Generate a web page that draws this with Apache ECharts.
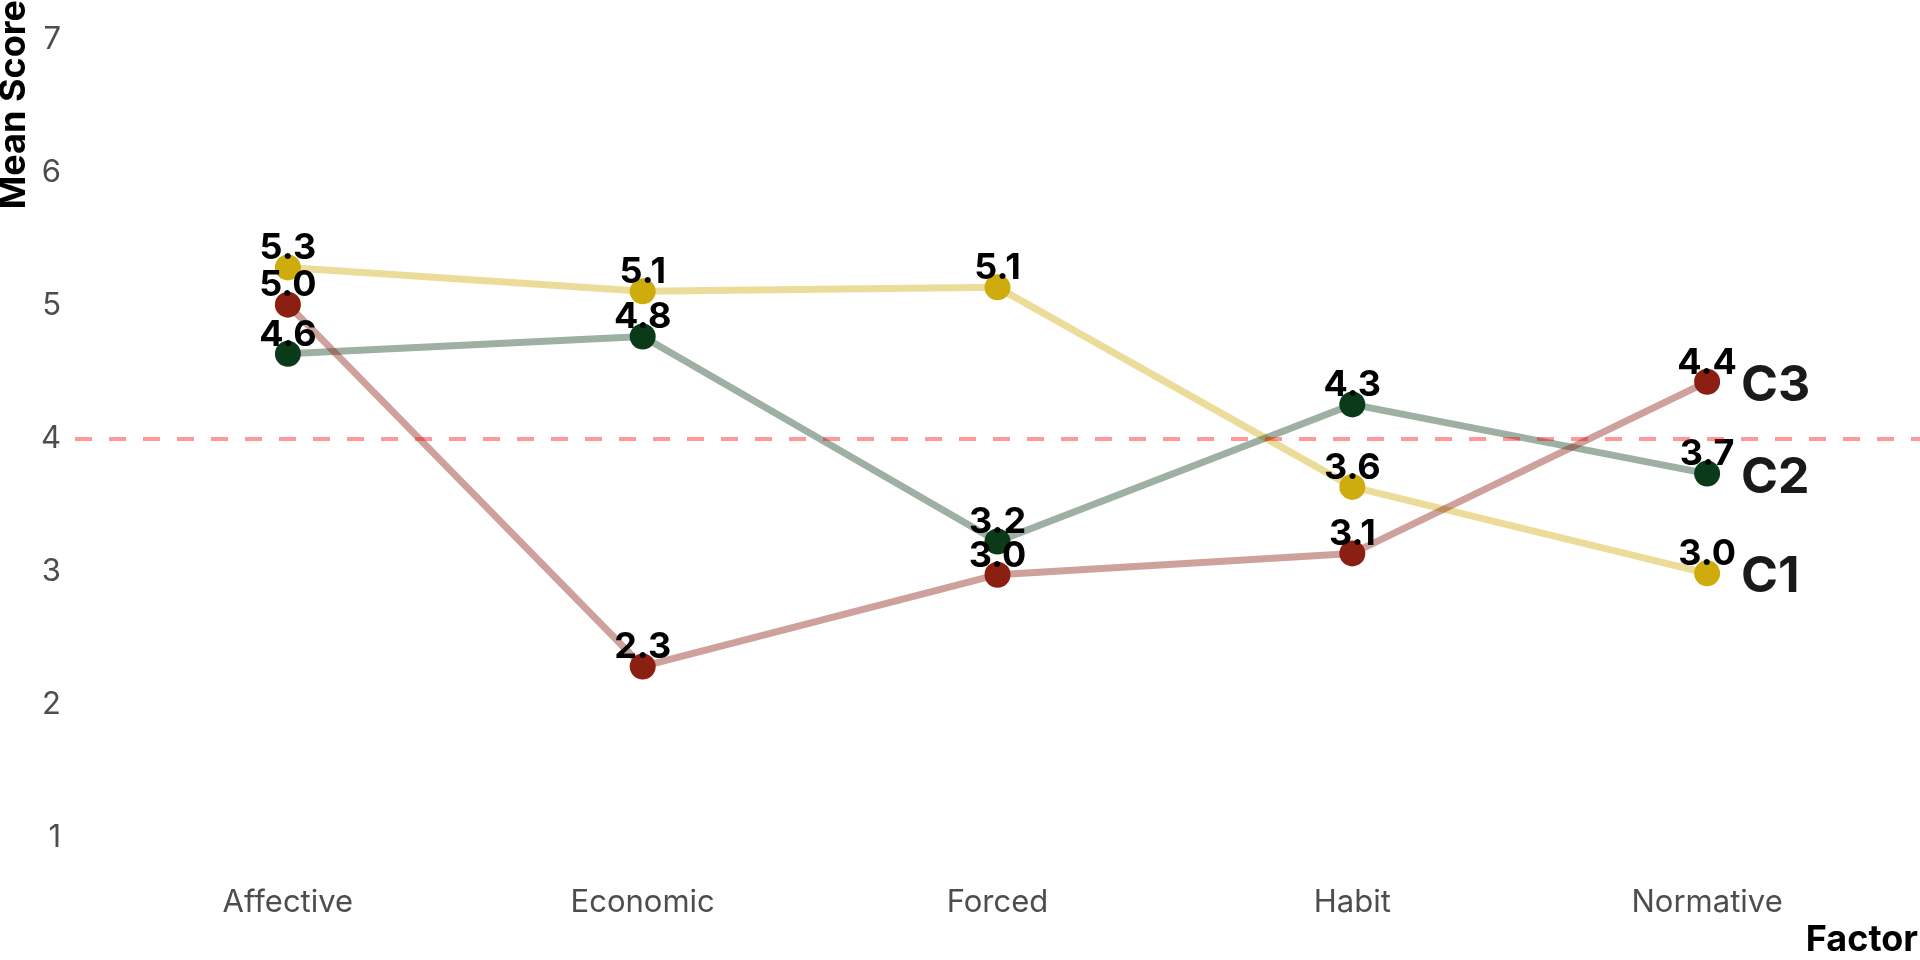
<!DOCTYPE html>
<html>
<head>
<meta charset="utf-8">
<script src="https://cdn.jsdelivr.net/npm/echarts@6/dist/echarts.min.js"></script>
<style>
html,body{margin:0;padding:0;background:#fff;}
#chart{width:1920px;height:960px;}
</style>
</head>
<body>
<div id="chart"></div>
<script>
var categories = ['Affective', 'Economic', 'Forced', 'Habit', 'Normative'];
var seriesNames = ['C1', 'C2', 'C3'];
var c1Values = [5.29, 5.11, 5.14, 3.64, 2.99];
var c2Values = [4.64, 4.77, 3.23, 4.26, 3.74];
var c3Values = [5.01, 2.29, 2.98, 3.14, 4.43];
var yTicks = [1, 2, 3, 4, 5, 6, 7];
var referenceLine = 4;

var pointColors = ['#CFAC0E', '#0A3A18', '#8A1F12'];
var lineColors = ['rgba(207,172,14,0.42)', 'rgba(10,58,24,0.40)', 'rgba(138,31,18,0.42)'];
var allValues = [c1Values, c2Values, c3Values];

var FONT = 'Inter';

var series = seriesNames.map(function (name, s) {
  var obj = {
    name: name,
    type: 'line',
    data: allValues[s].map(function (v, i) { return [i, v]; }),
    symbol: 'circle',
    symbolSize: 26,
    lineStyle: { color: lineColors[s], width: 7 },
    itemStyle: { color: pointColors[s] },
    label: {
      show: true,
      position: 'inside',
      offset: [0, -19],
      formatter: function (p) { return p.value[1].toFixed(1); },
      fontFamily: FONT,
      fontWeight: 'bold',
      fontSize: 36,
      color: '#000'
    },
    endLabel: {
      show: true,
      formatter: function (p) { return p.seriesName; },
      distance: 34,
      offset: [0, 4],
      fontFamily: FONT,
      fontWeight: 'bold',
      fontSize: 50,
      color: '#1a1a1a'
    },
    emphasis: { disabled: true },
    animation: false,
    z: 2
  };
  if (s === 0) {
    obj.markLine = {
      silent: true,
      symbol: 'none',
      label: { show: false },
      lineStyle: { color: 'rgba(255,0,0,0.4)', type: [17, 17], width: 4 },
      data: [{ yAxis: referenceLine }],
      animation: false
    };
  }
  return obj;
});

var chart = echarts.init(document.getElementById('chart'), null, { renderer: 'canvas' });
chart.setOption({
  backgroundColor: '#fff',
  animation: false,
  grid: { left: 75, right: 0, top: -2, bottom: 82, containLabel: false },
  xAxis: {
    type: 'value',
    min: -0.6,
    max: 4.6,
    axisLine: { show: false },
    axisTick: { show: false },
    splitLine: { show: false },
    axisLabel: {
      customValues: categories.map(function (c, i) { return i; }),
      formatter: function (v) { return categories[Math.round(v)]; },
      fontFamily: FONT,
      fontSize: 31,
      color: '#4d4d4d',
      margin: 9
    }
  },
  yAxis: {
    type: 'value',
    min: 0.7,
    max: 7.3,
    axisLine: { show: false },
    axisTick: { show: false },
    splitLine: { show: false },
    axisLabel: {
      customValues: yTicks,
      formatter: function (v) { return String(v); },
      fontFamily: FONT,
      fontSize: 31,
      color: '#4d4d4d',
      margin: 14
    }
  },
  graphic: [
    {
      type: 'text',
      x: 1918,
      y: 940,
      style: {
        text: 'Factor',
        x: 0,
        y: 0,
        align: 'right',
        verticalAlign: 'middle',
        fontFamily: FONT,
        fontWeight: 'bold',
        fontSize: 36,
        fill: '#000'
      }
    },
    {
      type: 'text',
      x: 14,
      y: 0,
      rotation: Math.PI / 2,
      style: {
        text: 'Mean Score',
        x: 0,
        y: 0,
        align: 'right',
        verticalAlign: 'middle',
        fontFamily: FONT,
        fontWeight: 'bold',
        fontSize: 36,
        fill: '#000'
      }
    }
  ],
  series: series
});
</script>
</body>
</html>
